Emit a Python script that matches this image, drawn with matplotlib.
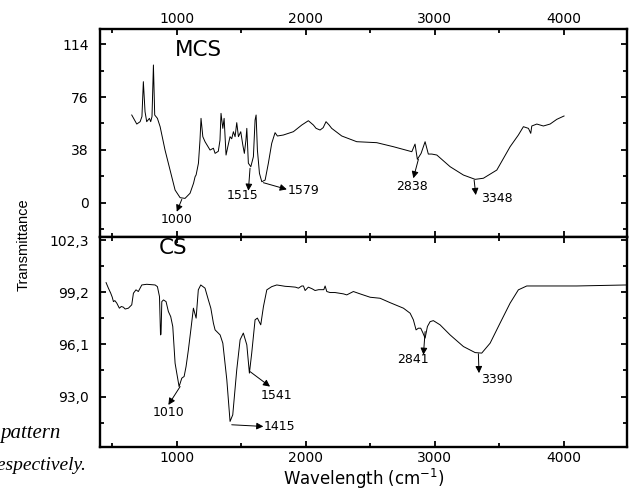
import matplotlib
matplotlib.use('Agg')
import matplotlib.pyplot as plt
from matplotlib.ticker import MultipleLocator, FixedLocator

plt.rcParams['font.family'] = ['DejaVu Sans']

# MCS spectrum (top panel)
mcs_wn = [651, 690, 716, 730, 741, 754, 767, 788, 798, 808, 819, 829, 850, 871, 909, 948,
          987, 1026, 1064, 1103, 1130, 1142, 1150, 1168, 1180, 1188, 1202, 1219, 1258, 1284,
          1297, 1322, 1335, 1343, 1357, 1367, 1382, 1395, 1413, 1426, 1439, 1452, 1465, 1478,
          1496, 1512, 1524, 1536, 1543, 1555, 1574, 1594, 1607, 1615, 1625, 1641, 1659, 1685,
          1710, 1736, 1762, 1780, 1826, 1904, 1969, 2020, 2059, 2080, 2111, 2135, 2157, 2180,
          2201, 2279, 2395, 2550, 2679, 2822, 2847, 2865, 2894, 2925, 2950, 2977, 3016, 3119,
          3222, 3313, 3377, 3481, 3584, 3648, 3687, 3726, 3744, 3752, 3791, 3842, 3894, 3946, 4002]
mcs_t = [63.1, 56.6, 58.3, 62.0, 87.1, 65.5, 58.3, 60.7, 58.3, 62.0, 99.1, 63.1, 60.7, 54.7, 37.9, 23.5,
         9.1, 3.6, 3.1, 6.8, 14.0, 18.7, 20.0, 28.4, 45.0, 60.7, 47.5, 43.9, 37.9, 39.2,
         35.5, 37.0, 45.0, 64.3, 53.5, 60.7, 34.3, 40.0, 47.5, 46.0, 51.1, 47.5, 57.6, 47.5,
         51.1, 41.5, 35.5, 45.0, 53.5, 28.4, 25.9, 33.1, 59.5, 63.1, 37.9, 21.1, 15.1, 16.3,
         28.4, 42.7, 50.4, 48.0, 48.7, 51.1, 55.9, 59.0, 55.9, 53.5, 52.3, 54.0, 58.3, 56.0,
         53.5, 48.0, 43.9, 43.2, 40.3, 36.7, 42.2, 31.2, 35.5, 43.9, 35.0, 35.0, 34.3, 25.9,
         19.9, 16.8, 17.6, 23.5, 40.3, 48.7, 54.7, 53.5, 49.9, 55.2, 56.6, 55.2, 56.6, 60.0, 62.4]

# CS spectrum (bottom panel)
cs_wn = [452, 470, 488, 500, 509, 520, 535, 555, 570, 586, 600, 625, 651, 664, 684, 702,
         729, 767, 832, 850, 866, 874, 878, 884, 897, 917, 935, 953, 969, 987, 1000, 1018,
         1039, 1057, 1072, 1090, 1109, 1129, 1150, 1167, 1186, 1219, 1245, 1264, 1284, 1297,
         1336, 1357, 1388, 1413, 1434, 1465, 1491, 1516, 1543, 1563, 1581, 1607, 1625, 1651,
         1672, 1698, 1736, 1775, 1800, 1840, 1878, 1920, 1943, 1969, 1982, 1995, 2020, 2050,
         2072, 2100, 2140, 2150, 2163, 2188, 2227, 2292, 2318, 2369, 2421, 2499, 2576, 2653,
         2757, 2809, 2834, 2855, 2873, 2891, 2907, 2925, 2943, 2964, 2989, 3041, 3119, 3222,
         3313, 3364, 3429, 3506, 3584, 3648, 3713, 3842, 4101, 4488]
cs_t = [99.77, 99.44, 99.14, 98.90, 98.64, 98.70, 98.55, 98.25, 98.35, 98.31, 98.20, 98.25, 98.45, 99.14, 99.34, 99.24,
        99.63, 99.67, 99.63, 99.53, 98.94, 96.66, 96.70, 98.64, 98.74, 98.64, 98.05, 97.75, 97.16, 94.98, 94.39, 93.59,
        94.09, 94.19, 94.78, 95.77, 96.96, 98.25, 97.66, 99.34, 99.63, 99.44, 98.74, 98.25, 97.36, 96.96,
        96.66, 96.17, 93.99, 91.52, 91.91, 94.59, 96.37, 96.77, 96.07, 94.39, 95.58, 97.56, 97.66, 97.26,
        98.35, 99.34, 99.53, 99.63, 99.60, 99.55, 99.53, 99.50, 99.44, 99.57, 99.57, 99.30, 99.50, 99.40,
        99.30, 99.35, 99.35, 99.57, 99.24, 99.18, 99.18, 99.10, 99.04, 99.24, 99.10, 98.90, 98.84, 98.58,
        98.25, 97.95, 97.56, 96.96, 97.06, 97.06, 96.80, 96.47, 97.16, 97.45, 97.51, 97.26, 96.66, 95.97,
        95.61, 95.58, 96.17, 97.36, 98.55, 99.34, 99.57, 99.57, 99.57, 99.63]

# peak labels: (text, arrow start on curve, arrow end, label position, alignment)
mcs_peaks = [('1000', (1039, 2.4), (1000, -6.5), (1000, -12.0), 'center'),
             ('1515', (1568, 24.8), (1555, 8.6), (1509, 5.5), 'center'),
             ('1579', (1671, 14.4), (1853, 9.6), (1862, 9.1), 'left'),
             ('2838', (2873, 31.2), (2834, 17.6), (2826, 12.0), 'center'),
             ('3348', (3305, 16.3), (3318, 5.5), (3478, 3.2), 'center')]
cs_peaks = [('1010', (1026, 93.59), (935, 92.5), (935, 92.05), 'center'),
            ('1415', (1426, 91.32), (1671, 91.22), (1675, 91.22), 'left'),
            ('1541', (1568, 94.48), (1723, 93.59), (1770, 93.04), 'center'),
            ('2841', (2925, 96.86), (2912, 95.48), (2834, 95.18), 'center'),
            ('3390', (3338, 95.54), (3343, 94.39), (3481, 94.03), 'center')]

top_yticks = [0, 38, 76, 114]
top_ylabels = ['0', '38', '76', '114']
bot_yticks = [93.0, 96.1, 99.2, 102.3]
bot_ylabels = ['93,0', '96,1', '99,2', '102,3']
xticks = [1000, 2000, 3000, 4000]

fig = plt.figure(figsize=(6.29, 4.90), dpi=100)
ax1 = fig.add_axes([0.159, 0.5163, 0.8378, 0.4245])
ax2 = fig.add_axes([0.159, 0.0878, 0.8378, 0.4285])

for ax in (ax1, ax2):
    ax.set_xlim(405, 4490)
    ax.xaxis.set_major_locator(FixedLocator(xticks))
    ax.xaxis.set_minor_locator(MultipleLocator(500))
    ax.tick_params(which='both', direction='in', top=True, right=True, width=1.3)
    ax.tick_params(which='major', length=4.5, labelsize=10)
    ax.tick_params(which='minor', length=3)
    for s in ax.spines.values():
        s.set_linewidth(1.7)

ax1.plot(mcs_wn, mcs_t, color='black', lw=0.7)
ax1.set_ylim(-24.7, 125)
ax1.set_yticks(top_yticks)
ax1.set_yticklabels(top_ylabels)
ax1.yaxis.set_minor_locator(MultipleLocator(19))
ax1.tick_params(axis='x', labeltop=True, labelbottom=False, pad=2)
ax1.tick_params(axis='y', pad=8)
ax1.text(1167, 110, 'MCS', fontsize=15.5, ha='center', va='center')

ax2.plot(cs_wn, cs_t, color='black', lw=0.7)
ax2.set_ylim(90.0, 102.48)
ax2.set_yticks(bot_yticks)
ax2.set_yticklabels(bot_ylabels)
ax2.yaxis.set_minor_locator(MultipleLocator(1.55))
ax2.tick_params(axis='x', pad=3)
ax2.tick_params(axis='y', pad=8)
ax2.text(974, 101.81, 'CS', fontsize=15.5, ha='center', va='center')
ax2.set_xlabel('Wavelength (cm$^{-1}$)', fontsize=12, va='center')
ax2.xaxis.set_label_coords(0.5, -0.15)

for ax, peaks in ((ax1, mcs_peaks), (ax2, cs_peaks)):
    for label, start, end, pos, ha in peaks:
        ax.annotate('', xy=end, xytext=start,
                    arrowprops=dict(arrowstyle='-|>', color='black', lw=0.7,
                                    mutation_scale=10, shrinkA=0, shrinkB=0))
        ax.text(pos[0], pos[1], label, fontsize=9, ha=ha, va='center')

fig.text(0.038, 0.5, 'Transmittance', rotation=90, fontsize=10.5,
         family=['Liberation Sans'], ha='center', va='center')

# leftover caption fragments from the scanned page
fig.text(61 / 629, 1 - 438 / 490, 'pattern', fontsize=15, style='italic',
         family=['Liberation Serif'], ha='right', va='baseline')
fig.text(86 / 629, 1 - 470 / 490, 'respectively.', fontsize=14, style='italic',
         family=['Liberation Serif'], ha='right', va='baseline')

fig.savefig('out.png', dpi=100)
